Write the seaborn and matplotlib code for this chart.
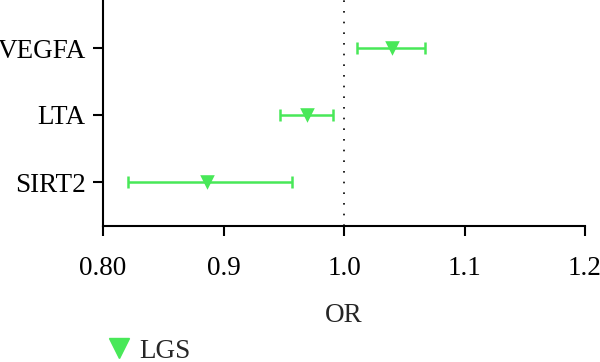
import matplotlib
matplotlib.use("Agg")
import matplotlib.pyplot as plt
import seaborn as sns
import pandas as pd
from matplotlib.lines import Line2D

genes = ["VEGFA", "LTA", "SIRT2"]
or_vals = [1.040, 0.969, 0.886]
ci_low = [1.011, 0.947, 0.821]
ci_high = [1.067, 0.991, 0.957]
group = "LGS"
xticks = [0.8, 0.9, 1.0, 1.1, 1.2]
xticklabels = ["0.80", "0.9", "1.0", "1.1", "1.2"]

green = "#48E858"

sns.set_theme(style="ticks")
plt.rcParams["font.family"] = ["Liberation Serif", "DejaVu Serif"]

df = pd.DataFrame({"gene": genes, "OR": or_vals, "lo": ci_low, "hi": ci_high})
df["pos"] = range(len(df))

fig = plt.figure(figsize=(6.0, 3.62), dpi=100)
ax = fig.add_axes([103/600, 1 - 226/362, (585-103)/600, 226/362])

ax.errorbar(df["OR"], df["pos"],
            xerr=[df["OR"] - df["lo"], df["hi"] - df["OR"]],
            fmt="none", ecolor=green, elinewidth=1.8, capsize=4.5, capthick=1.8, zorder=2)
sns.scatterplot(data=df, x="OR", y="pos", marker="v", color=green, s=110,
                edgecolor=green, linewidth=0, ax=ax, zorder=3, legend=False)

ax.axvline(1.0, color="black", linestyle=(0, (1, 5.4)), linewidth=1.2, zorder=1)

ax.set_xlim(0.8, 1.2)
ax.set_ylim(2 + 44/67, -48/67)
ax.set_xticks(xticks)
ax.set_xticklabels(xticklabels)
ax.set_yticks(df["pos"])
ax.set_yticklabels(genes)
ax.set_xlabel("OR", fontsize=19.5, labelpad=16)
ax.set_ylabel("")

for s in ["top", "right"]:
    ax.spines[s].set_visible(False)
for s in ["left", "bottom"]:
    ax.spines[s].set_linewidth(1.5)
    ax.spines[s].set_color("black")
ax.tick_params(axis="both", width=1.5, length=7.5, color="black",
               labelsize=19.5, labelcolor="black")
ax.tick_params(axis="x", pad=14)
ax.tick_params(axis="y", pad=5)

handle = Line2D([], [], marker="v", linestyle="none", color=green, markersize=14.5)
fig.legend([handle], [group], loc="center left", bbox_to_anchor=(99/600, 1 - 351/362),
           frameon=False, fontsize=19.5, handletextpad=0.0, borderaxespad=0, borderpad=0,
           handlelength=1.5)

fig.savefig("out.png", dpi=100)
